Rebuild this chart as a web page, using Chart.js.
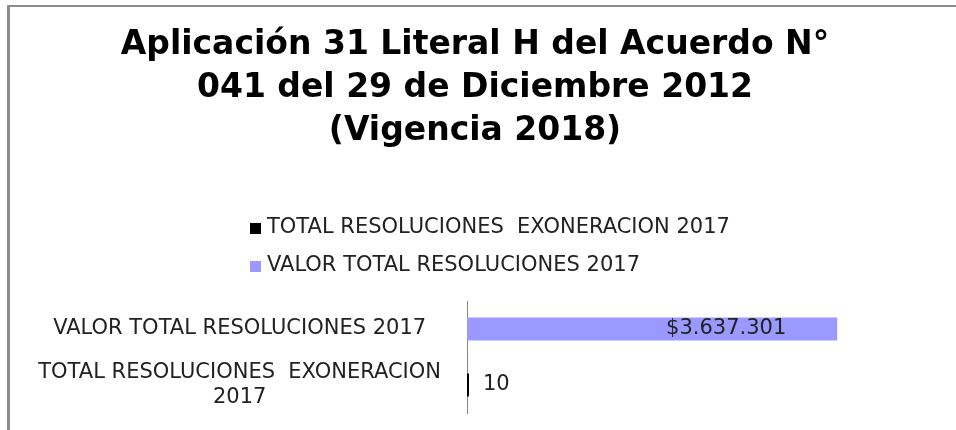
<!DOCTYPE html>
<html>
<head>
<meta charset="utf-8">
<script src="https://cdn.jsdelivr.net/npm/chart.js@4.4.1/dist/chart.umd.min.js"></script>
<style>
  html, body { margin: 0; padding: 0; background: #fff; }
  #wrap { position: relative; width: 956px; height: 430px; }
  #frame { position: absolute; left: 7px; top: 5px; right: 0; bottom: 0; border-top: 2px solid #8c8c8c; border-left: 3px solid #8c8c8c; }
  canvas { position: absolute; left: 0; top: 0; }
</style>
</head>
<body>
<div id="wrap">
  <div id="frame"></div>
  <canvas id="resolucionesChart" width="956" height="430"></canvas>
</div>
<script>
const titleLines = ['Aplicación 31 Literal H del Acuerdo N°', '041 del 29 de Diciembre 2012', '(Vigencia 2018)'];
const categories = ['TOTAL RESOLUCIONES  EXONERACION 2017', 'VALOR TOTAL RESOLUCIONES 2017'];
// same categories for the axis, the long one split over two lines
const axisLabels = [['TOTAL RESOLUCIONES  EXONERACION', '2017'], 'VALOR TOTAL RESOLUCIONES 2017'];
const values = [10, 3637301];
const valuePrefix = ['', '$'];
const barColors = ['#000000', '#9999FF'];
const xMax = 4500000;

const FONT = 'DejaVu Sans';
const TEXT_COLOR = '#222';

function formatNumber(v) {
  return String(v).replace(/\B(?=(\d{3})+(?!\d))/g, '.');
}

// legend with one item per row, drawn above the plot area
const stackedLegend = {
  id: 'stackedLegend',
  afterDraw(chart, args, opts) {
    const ctx = chart.ctx;
    ctx.save();
    ctx.font = opts.fontSize + 'px "' + FONT + '"';
    const widest = Math.max(...categories.map(c => ctx.measureText(c).width));
    const x = Math.round((chart.width - (opts.boxSize + opts.gap + widest)) / 2) + opts.offsetX;
    let y = chart.chartArea.top - opts.bottomGap - (categories.length - 1) * opts.rowHeight;
    ctx.textBaseline = 'middle';
    ctx.textAlign = 'left';
    categories.forEach((label, i) => {
      ctx.fillStyle = barColors[i];
      ctx.fillRect(x, Math.round(y - opts.boxSize / 2), opts.boxSize, opts.boxSize);
      ctx.fillStyle = TEXT_COLOR;
      ctx.fillText(label, x + opts.boxSize + opts.gap, y);
      y += opts.rowHeight;
    });
    ctx.restore();
  }
};

// value labels: inside the bar when it fits, otherwise just past its end
const valueLabels = {
  id: 'valueLabels',
  afterDatasetsDraw(chart) {
    const ctx = chart.ctx;
    const meta = chart.getDatasetMeta(0);
    const base = chart.scales.x.getPixelForValue(0);
    ctx.save();
    ctx.font = '21px "' + FONT + '"';
    ctx.fillStyle = TEXT_COLOR;
    ctx.textBaseline = 'middle';
    meta.data.forEach((bar, i) => {
      const text = valuePrefix[i] + formatNumber(values[i]);
      const len = bar.x - base;
      if (len > ctx.measureText(text).width + 20) {
        ctx.textAlign = 'center';
        ctx.fillText(text, base + len * 0.7, bar.y);
      } else {
        ctx.textAlign = 'left';
        ctx.fillText(text, bar.x + 14, bar.y);
      }
    });
    ctx.restore();
  }
};

new Chart(document.getElementById('resolucionesChart'), {
  type: 'bar',
  data: {
    labels: axisLabels,
    datasets: [{
      data: values,
      backgroundColor: barColors,
      barPercentage: 0.41,
      categoryPercentage: 1,
      minBarLength: 2
    }]
  },
  options: {
    indexAxis: 'y',
    responsive: false,
    animation: false,
    layout: { padding: { left: 25, right: 31, bottom: 17 } },
    scales: {
      x: { display: false, min: 0, max: xMax },
      y: {
        reverse: true,
        grid: { display: false, drawTicks: false },
        border: { display: true, color: '#868686', width: 1 },
        ticks: {
          color: TEXT_COLOR,
          font: { family: FONT, size: 21 },
          padding: 26,
          crossAlign: 'center',
          autoSkip: false
        },
        afterFit(scale) {
          // fixed label column; the two-line label must not shrink the plot
          scale.width = 442;
          scale.paddingTop = 0;
          scale.paddingBottom = 0;
        }
      }
    },
    plugins: {
      legend: { display: false },
      tooltip: { enabled: false },
      title: {
        display: true,
        text: titleLines,
        color: '#000',
        font: { family: FONT, size: 33, weight: 'bold', lineHeight: 43 / 33 },
        padding: { top: 24, bottom: 148 }
      },
      stackedLegend: { fontSize: 21, boxSize: 11, gap: 6, rowHeight: 38, bottomGap: 35, offsetX: 12 }
    }
  },
  plugins: [stackedLegend, valueLabels]
});
</script>
</body>
</html>
